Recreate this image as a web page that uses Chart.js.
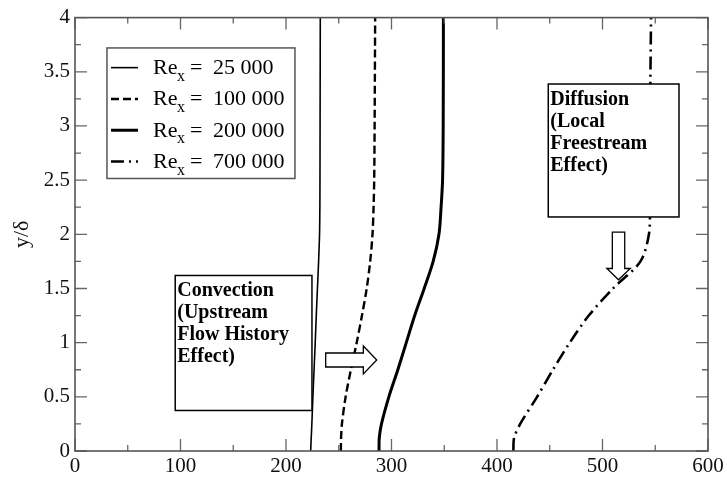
<!DOCTYPE html>
<html>
<head>
<meta charset="utf-8">
<script src="https://cdn.jsdelivr.net/npm/chart.js@4"></script>
<style>
body { margin: 0; background: #fff; }
</style>
</head>
<body>
<canvas id="grafico" width="727" height="479"></canvas>
<script>
// perfiles: y/δ comun y posicion x de cada curva
const alturas = [0, 0.12, 0.25, 0.5, 0.75, 1, 1.25, 1.5, 1.75, 2, 2.25, 2.5, 3, 4];
const re25000 = [223.4, 223.9, 224.5, 225.5, 226.6, 227.7, 228.7, 229.8, 230.9, 231.8, 232.1, 232.2, 232.3, 232.5];
const re100000 = [252, 252.2, 253, 256.5, 261.5, 267, 272, 276.5, 279.8, 282, 283, 283.6, 284, 284.5];
const re200000 = [288.2, 288.4, 290.5, 297.5, 306, 314, 322, 331, 339.5, 345, 347, 348.4, 349, 349.2];
const re700000 = [415.5, 416.2, 422, 438, 453, 469, 487, 510, 536, 544, 545, 545, 545, 546];
const nombres = ['25 000', '100 000', '200 000', '700 000'];
const ticksX = [0, 100, 200, 300, 400, 500, 600];
const ticksY = [0, 0.5, 1, 1.5, 2, 2.5, 3, 3.5, 4];

const SERIF = '"Liberation Serif", "Times New Roman", serif';

function serie(xs) {
    return xs.map((x, i) => ({ x: x, y: alturas[i] }));
}

function linea(nombre, xs, ancho, guion) {
    return {
        label: nombre,
        data: serie(xs),
        borderColor: '#000',
        borderWidth: ancho,
        borderDash: guion,
        pointRadius: 0,
        tension: 0.3,
        fill: false
    };
}

function caja(ctx, x1, y1, x2, y2, lineas) {
    ctx.fillStyle = '#fff';
    ctx.fillRect(x1, y1, x2 - x1, y2 - y1);
    ctx.strokeStyle = '#000';
    ctx.lineWidth = 1.5;
    ctx.strokeRect(x1, y1, x2 - x1, y2 - y1);
    ctx.fillStyle = '#000';
    ctx.font = 'bold 20px ' + SERIF;
    ctx.textAlign = 'left';
    ctx.textBaseline = 'alphabetic';
    lineas.forEach((t, i) => ctx.fillText(t, x1 + 2, y1 + 20.5 + i * 22));
}

// flecha hueca; dir = 'derecha' o 'abajo'
function flecha(ctx, x0, y0, x1, y1, medio, cabeza, largo, dir) {
    ctx.beginPath();
    if (dir === 'derecha') {
        const b = x1 - largo;
        ctx.moveTo(x0, y0 - medio);
        ctx.lineTo(b, y0 - medio);
        ctx.lineTo(b, y0 - cabeza);
        ctx.lineTo(x1, y0);
        ctx.lineTo(b, y0 + cabeza);
        ctx.lineTo(b, y0 + medio);
        ctx.lineTo(x0, y0 + medio);
    } else {
        const b = y1 - largo;
        ctx.moveTo(x0 - medio, y0);
        ctx.lineTo(x0 - medio, b);
        ctx.lineTo(x0 - cabeza, b);
        ctx.lineTo(x0, y1);
        ctx.lineTo(x0 + cabeza, b);
        ctx.lineTo(x0 + medio, b);
        ctx.lineTo(x0 + medio, y0);
    }
    ctx.closePath();
    ctx.fillStyle = '#fff';
    ctx.fill();
    ctx.strokeStyle = '#000';
    ctx.lineWidth = 1.3;
    ctx.stroke();
}

const adornos = {
    id: 'adornos',
    afterDatasetsDraw(chart) {
        const ctx = chart.ctx;
        const sx = chart.scales.x, sy = chart.scales.y;
        const a = chart.chartArea;
        const px = v => sx.getPixelForValue(v);
        const py = v => sy.getPixelForValue(v);
        ctx.save();

        // cuadros de texto
        caja(ctx, px(95), py(1.62), px(224.6), py(0.374),
            ['Convection', '(Upstream', 'Flow History', 'Effect)']);
        caja(ctx, px(448.6), py(3.387), px(572.5), py(2.16),
            ['Diffusion', '(Local', 'Freestream', 'Effect)']);

        // flechas
        flecha(ctx, px(237.6), py(0.84), px(286), py(0.84), 7, 14, 13.4, 'derecha');
        flecha(ctx, px(515.2), py(2.02), px(515.2), py(1.58), 6.2, 11.7, 11.3, 'abajo');

        // leyenda
        const lx1 = px(30.3), ly1 = py(3.72), lx2 = px(208.5), ly2 = py(2.515);
        ctx.fillStyle = '#fff';
        ctx.fillRect(lx1, ly1, lx2 - lx1, ly2 - ly1);
        ctx.strokeStyle = '#555';
        ctx.lineWidth = 1.5;
        ctx.strokeRect(lx1, ly1, lx2 - lx1, ly2 - ly1);
        chart.data.datasets.forEach((ds, i) => {
            const yy = ly1 + 19.7 + i * 31.3;
            ctx.beginPath();
            ctx.setLineDash(ds.borderDash || []);
            ctx.strokeStyle = '#000';
            ctx.lineWidth = ds.borderWidth;
            ctx.moveTo(lx1 + 4, yy);
            ctx.lineTo(lx1 + 31, yy);
            ctx.stroke();
            ctx.setLineDash([]);
            ctx.fillStyle = '#000';
            ctx.textAlign = 'left';
            ctx.textBaseline = 'alphabetic';
            ctx.font = '22px ' + SERIF;
            ctx.fillText('Re', lx1 + 46, yy + 6.5);
            ctx.font = '16px ' + SERIF;
            ctx.fillText('x', lx1 + 70, yy + 13);
            ctx.font = '22px ' + SERIF;
            ctx.fillText('=', lx1 + 83, yy + 6.5);
            ctx.fillText(nombres[i], lx1 + 106, yy + 6.5);
        });

        // marcas hacia dentro en los cuatro lados
        ctx.strokeStyle = '#666';
        ctx.lineWidth = 1.3;
        ctx.beginPath();
        for (let i = 0; i < ticksX.length; i++) {
            const v = ticksX[i];
            const x = px(v);
            ctx.moveTo(x, a.bottom); ctx.lineTo(x, a.bottom - 12);
            ctx.moveTo(x, a.top); ctx.lineTo(x, a.top + 12);
            if (i < ticksX.length - 1) {
                const xm = px((v + ticksX[i + 1]) / 2);
                ctx.moveTo(xm, a.bottom); ctx.lineTo(xm, a.bottom - 6);
                ctx.moveTo(xm, a.top); ctx.lineTo(xm, a.top + 6);
            }
        }
        for (let i = 0; i < ticksY.length; i++) {
            const v = ticksY[i];
            const y = py(v);
            ctx.moveTo(a.left, y); ctx.lineTo(a.left + 12, y);
            ctx.moveTo(a.right, y); ctx.lineTo(a.right - 12, y);
            if (i < ticksY.length - 1) {
                const ym = py((v + ticksY[i + 1]) / 2);
                ctx.moveTo(a.left, ym); ctx.lineTo(a.left + 6, ym);
                ctx.moveTo(a.right, ym); ctx.lineTo(a.right - 6, ym);
            }
        }
        ctx.stroke();

        // marco
        ctx.strokeStyle = '#555';
        ctx.lineWidth = 1.6;
        ctx.strokeRect(a.left, a.top, a.right - a.left, a.bottom - a.top);
        ctx.restore();
    }
};

function graficar() {
    const ctx = document.getElementById('grafico');
    const data = {
        datasets: [
            linea('Re_x = 25 000', re25000, 1.6, []),
            linea('Re_x = 100 000', re100000, 2.4, [8, 4]),
            linea('Re_x = 200 000', re200000, 3, []),
            linea('Re_x = 700 000', re700000, 2.6, [13, 5, 2, 5])
        ]
    };
    const config = {
        type: 'line',
        data: data,
        plugins: [adornos],
        options: {
            responsive: false,
            animation: false,
            layout: { padding: { top: 12, right: 19, left: 0, bottom: 0 } },
            plugins: {
                legend: { display: false },
                tooltip: { enabled: false }
            },
            scales: {
                x: {
                    type: 'linear',
                    min: 0,
                    max: 600,
                    afterBuildTicks: s => { s.ticks = ticksX.map(v => ({ value: v })); },
                    afterFit: s => { s.height = 28; },
                    grid: { display: false, drawTicks: false },
                    border: { display: false },
                    ticks: {
                        autoSkip: false,
                        maxRotation: 0,
                        padding: 3,
                        color: '#111',
                        font: { family: SERIF, size: 21 },
                        callback: v => String(v)
                    }
                },
                y: {
                    type: 'linear',
                    min: 0,
                    max: 4,
                    afterBuildTicks: s => { s.ticks = ticksY.map(v => ({ value: v })); },
                    afterFit: s => { s.width = 75; },
                    grid: { display: false, drawTicks: false },
                    border: { display: false },
                    ticks: {
                        autoSkip: false,
                        padding: 5,
                        color: '#111',
                        font: { family: SERIF, size: 21 },
                        callback: v => String(v)
                    },
                    title: {
                        display: true,
                        text: 'y/δ',
                        color: '#111',
                        font: { family: SERIF, size: 22 },
                        padding: { top: 9, bottom: 0 }
                    }
                }
            }
        }
    };
    new Chart(ctx, config);
}

graficar();
</script>
</body>
</html>
